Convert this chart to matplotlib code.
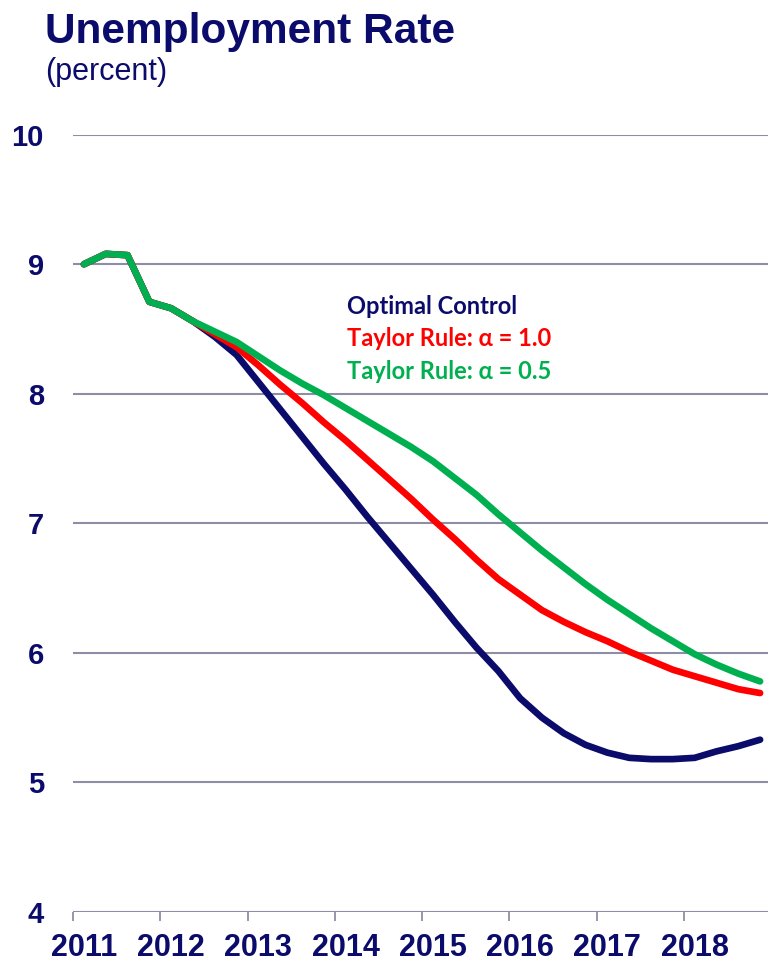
import matplotlib
matplotlib.use("Agg")
import matplotlib.pyplot as plt
import numpy as np

# ---- data (quarterly, 2011Q1 .. 2018Q4) ----
years = [2011, 2012, 2013, 2014, 2015, 2016, 2017, 2018]
year_labels = ["2011", "2012", "2013", "2014", "2015", "2016", "2017", "2018"]
y_ticks = [4, 5, 6, 7, 8, 9, 10]

common = [9.00, 9.08, 9.07, 8.71, 8.66, 8.56]

optimal_control = common + [8.44, 8.30, 8.09, 7.88, 7.67, 7.46, 7.26, 7.05,
                            6.85, 6.65, 6.45, 6.24, 6.04, 5.86, 5.65, 5.50,
                            5.38, 5.29, 5.23, 5.19, 5.18, 5.18, 5.19, 5.24,
                            5.28, 5.33]
taylor_1_0 = common + [8.46, 8.36, 8.22, 8.07, 7.93, 7.78, 7.64, 7.49,
                       7.34, 7.19, 7.03, 6.88, 6.72, 6.57, 6.45, 6.33,
                       6.24, 6.16, 6.09, 6.01, 5.94, 5.87, 5.82, 5.77,
                       5.72, 5.69]
taylor_0_5 = common + [8.48, 8.40, 8.29, 8.18, 8.08, 7.99, 7.89, 7.79,
                       7.69, 7.59, 7.48, 7.35, 7.22, 7.07, 6.93, 6.79,
                       6.66, 6.53, 6.41, 6.30, 6.19, 6.09, 5.99, 5.91,
                       5.84, 5.78]

series_names = ["Optimal Control", "Taylor Rule: \u03b1 = 1.0", "Taylor Rule: \u03b1 = 0.5"]

NAVY = "#0b0b6b"
RED = "#ff0000"
GREEN = "#00b050"
GRID = "#8d8da6"

n = len(optimal_control)
x = 2011 + (np.arange(n) + 0.5) / 4.0

W, H = 768, 963
fig = plt.figure(figsize=(W / 100, H / 100), dpi=100)
left_px, right_px = 73, 771
bot_px, top_px = 912, 134.7
ax = fig.add_axes([left_px / W, 1 - bot_px / H, (right_px - left_px) / W, (bot_px - top_px) / H])
ax.set_xlim(2011, 2019)
ax.set_ylim(4, 10)

for s in ax.spines.values():
    s.set_visible(False)

for v in y_ticks:
    ax.axhline(v, color=GRID, lw=1.5, zorder=1)

ax.plot(x, optimal_control, color=NAVY, lw=4.8, solid_capstyle="round", solid_joinstyle="round", zorder=3)
ax.plot(x, taylor_1_0, color=RED, lw=4.8, solid_capstyle="round", solid_joinstyle="round", zorder=4)
ax.plot(x, taylor_0_5, color=GREEN, lw=4.8, solid_capstyle="round", solid_joinstyle="round", zorder=5)

# x ticks: marks at year boundaries, labels at first-quarter centers
ax.set_xticks(years)
ax.set_xticklabels([])
ax.tick_params(axis="x", which="major", direction="out", length=6.5, width=1.3, color=GRID)
ax.set_xticks([yv + 0.125 for yv in years], minor=True)
ax.set_xticklabels(year_labels, minor=True)
ax.tick_params(axis="x", which="minor", length=0, pad=15)
for lab in ax.get_xticklabels(minor=True):
    lab.set_fontfamily(["Liberation Sans Narrow", "Liberation Sans"])
    lab.set_fontweight("bold")
    lab.set_fontsize(22)
    lab.set_color(NAVY)

ax.set_yticks(y_ticks)
ax.set_yticklabels([str(v) for v in y_ticks])
ax.tick_params(axis="y", length=0, pad=21)
for lab in ax.get_yticklabels():
    lab.set_fontfamily("Liberation Sans")
    lab.set_fontweight("bold")
    lab.set_fontsize(21)
    lab.set_color(NAVY)

# title
fig.text(45 / W, 1 - 43 / H, "Unemployment Rate", fontsize=30.5, fontweight="bold",
         color=NAVY, family="Liberation Sans", va="baseline", ha="left")
fig.text(45 / W, 1 - 80 / H, "(percent)", fontsize=22, color=NAVY,
         family="Liberation Sans", va="baseline", ha="left")

# legend text
leg_colors = [NAVY, RED, GREEN]
leg_base = [314, 346, 379]
for name, c, b in zip(series_names, leg_colors, leg_base):
    fig.text(347 / W, 1 - b / H, name, fontsize=17, fontweight="bold", color=c,
             family=["Lato", "DejaVu Sans"], va="baseline", ha="left")

fig.savefig("out.png", dpi=100)
